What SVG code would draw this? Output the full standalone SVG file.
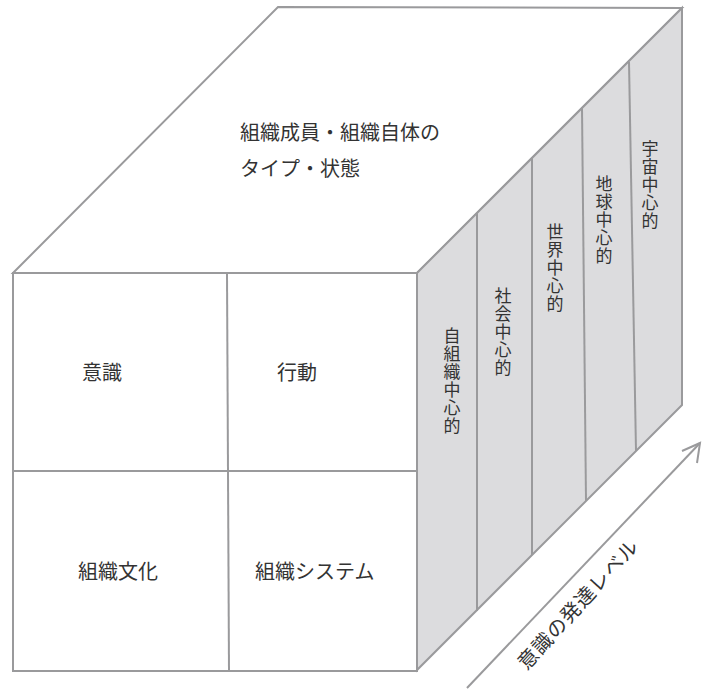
<svg xmlns="http://www.w3.org/2000/svg" width="702" height="690" viewBox="0 0 702 690">
<style>
.edge{fill:none;stroke:#9a9a9c;stroke-width:2;stroke-linejoin:miter}
.face{stroke:#9a9a9c;stroke-width:2}
.t{font-family:"Noto Sans CJK JP","Noto Sans CJK SC",sans-serif;font-size:20px;fill:#333}
.v{font-family:"Noto Sans CJK JP","Noto Sans CJK SC",sans-serif;font-size:17px;fill:#333;writing-mode:vertical-rl;letter-spacing:1px}
</style>
<rect width="702" height="690" fill="#fff"/>
<g id="top-face">
<polygon class="face" fill="#fff" points="13,273 278,7 682,8 417,273"/>
<text class="t" x="240" y="139.5">組織成員・組織自体の</text>
<text class="t" x="240" y="175.5">タイプ・状態</text>
</g>
<g id="right-face">
<polygon class="face" fill="#dcdcde" points="417,273 682,8 682,405 417,670"/>
</g>
<g id="front-face">
<rect class="face" fill="#fff" x="13" y="273" width="404" height="398"/>
</g>
<g id="cell-ishiki"><text class="t" x="82" y="379.5">意識</text></g>
<g id="cell-koudou"><text class="t" x="277" y="379.5">行動</text></g>
<g id="cell-bunka"><text class="t" x="78" y="579">組織文化</text></g>
<g id="cell-system"><text class="t" x="255" y="579">組織システム</text></g>
<g id="strip-1"><text class="v" x="452" y="327">自組織中心的</text></g>
<g id="strip-2"><text class="v" x="503" y="287">社会中心的</text></g>
<g id="strip-3"><text class="v" x="555" y="223">世界中心的</text></g>
<g id="strip-4"><text class="v" x="604" y="175">地球中心的</text></g>
<g id="strip-5"><text class="v" x="650" y="140">宇宙中心的</text></g>
<g id="connectors">
<line class="edge" x1="227" y1="273" x2="229" y2="671"/>
<line class="edge" x1="13" y1="471" x2="417" y2="471"/>
<line class="edge" x1="477" y1="213" x2="477" y2="611"/>
<line class="edge" x1="532" y1="158" x2="532" y2="555"/>
<line class="edge" x1="582" y1="108" x2="586" y2="501"/>
<line class="edge" x1="629" y1="62" x2="636" y2="451"/>
<line class="edge" x1="467" y1="688" x2="700" y2="443"/>
<polyline class="edge" points="682,451 700,443 697,463"/>
</g>
<g id="axis-label">
<text class="t" text-anchor="middle" transform="translate(578,604) rotate(-47.5)" y="7.5" letter-spacing="1">意識の発達レベル</text>
</g>
</svg>
